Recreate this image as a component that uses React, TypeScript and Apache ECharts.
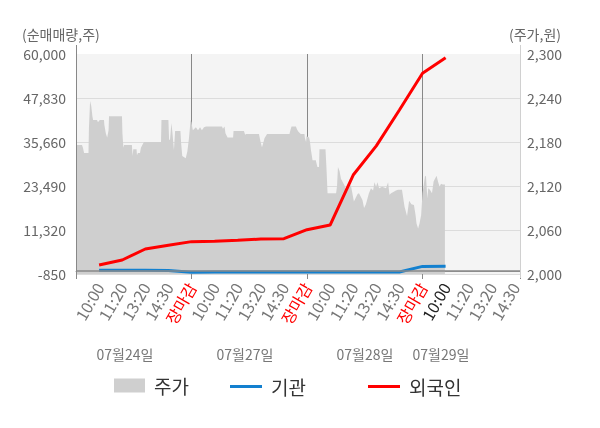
import React, { useEffect, useRef } from 'react';
import * as echarts from 'echarts';

const FONT = '"Noto Sans CJK KR", "Noto Sans", sans-serif';

// x positions are in "label slots": each trading day spans 5 slots (10:00, 11:20, 13:20, 14:30, 장마감)
const timeLabels = [
  '', '10:00', '11:20', '13:20', '14:30', '장마감',
  '10:00', '11:20', '13:20', '14:30', '장마감',
  '10:00', '11:20', '13:20', '14:30', '장마감',
  '10:00', '11:20', '13:20', '14:30',
];
const dateLabels = ['07월24일', '07월27일', '07월28일', '07월29일'];

// 주가 (price, right axis)
const priceX = [
  0, 0.04, 0.26, 0.3, 0.35, 0.54, 0.56, 0.61, 0.66, 0.71, 0.74, 0.91, 0.95, 1.03, 1.21, 1.23, 1.29, 1.35, 1.41, 1.43,
  1.99, 2.01, 2.05, 2.08, 2.42, 2.45, 2.48, 2.62, 2.64, 2.68, 2.77, 2.81, 2.94, 3.68, 3.7, 4.0, 4.03, 4.07, 4.13, 4.17,
  4.24, 4.29, 4.52, 4.55, 4.6, 4.75, 4.82, 4.89, 4.96,
  5.0, 5.04, 5.06, 5.19, 5.28, 5.37, 5.45, 5.54, 5.63, 6.32, 6.36, 6.43, 6.47, 6.56, 6.8, 6.82, 7.27, 7.32, 7.36, 7.92,
  7.99, 8.05, 8.1, 8.16, 8.27, 9.24, 9.29, 9.33, 9.52, 9.57, 9.63, 9.73, 9.89, 9.91, 9.96,
  9.98, 10.09, 10.13, 10.17, 10.24, 10.38, 10.41, 10.45, 10.52, 10.54, 10.8, 10.84, 10.89, 11.26, 11.3, 11.34, 11.41,
  11.47, 11.62, 11.69, 11.75, 11.9, 12.03, 12.19, 12.25, 12.4, 12.47, 12.55, 12.68, 12.77, 12.86, 12.92, 12.99, 13.05,
  13.12, 13.25, 13.42, 13.51, 13.57, 13.64, 13.85, 13.94, 14.11, 14.16, 14.22, 14.33, 14.42, 14.52, 14.63, 14.7, 14.74,
  14.81, 14.87, 14.94,
  15.0, 15.06, 15.11, 15.15, 15.21, 15.25, 15.32, 15.41, 15.48, 15.54, 15.61, 15.67, 15.74, 15.8, 15.87, 15.97,
];
const priceY = [
  2169, 2176, 2176, 2172, 2165, 2165, 2199, 2236, 2229, 2215, 2210, 2210, 2207, 2210, 2210, 2203, 2192, 2186, 2196, 2215,
  2215, 2192, 2172, 2176, 2176, 2161, 2170, 2170, 2162, 2165, 2165, 2172, 2180, 2180, 2210, 2210, 2183, 2183, 2206, 2194,
  2169, 2195, 2195, 2179, 2161, 2158, 2167, 2185, 2210,
  2207, 2199, 2196, 2200, 2196, 2200, 2196, 2200, 2201, 2201, 2198, 2201, 2192, 2186, 2186, 2195, 2195, 2190, 2191, 2191,
  2180, 2173, 2178, 2185, 2191, 2191, 2197, 2201, 2201, 2197, 2194, 2191, 2191, 2185, 2180,
  2188, 2186, 2180, 2169, 2155, 2155, 2151, 2146, 2146, 2170, 2170, 2146, 2110, 2110, 2120, 2146, 2140,
  2130, 2121, 2115, 2119, 2121, 2099, 2109, 2110, 2101, 2090, 2095, 2110, 2117, 2114, 2125, 2119, 2125,
  2117, 2119, 2117, 2125, 2108, 2110, 2114, 2115, 2115, 2105, 2092, 2079, 2100, 2095, 2094, 2080, 2069,
  2062, 2069, 2080,
  2110, 2123, 2134, 2133, 2103, 2117, 2115, 2110, 2126, 2130, 2134, 2126, 2119, 2123, 2122, 2122,
];

// 기관 / 외국인 net buying volume (left axis), one point per label slot
const lineX = [1, 2, 3, 4, 5, 6, 7, 8, 9, 10, 11, 12, 13, 14, 15, 16];
const institution = [200, 200, 200, 150, -350, -300, -300, -300, -300, -300, -300, -300, -300, -300, 1250, 1300];
const foreign = [1640, 3020, 6070, 7100, 8100, 8200, 8470, 8830, 8910, 11400, 12700, 26530, 34600, 44510, 54660, 58980];

const leftMin = -850;
const leftMax = 60000;
const leftStep = 12170;
const rightMin = 2000;
const rightMax = 2300;
const rightStep = 60;
const X_MAX = 19.22;

const fmt = (v: number) => Math.round(v).toLocaleString('en-US');

export default function App() {
  const ref = useRef<HTMLDivElement>(null);
  useEffect(() => {
    const chart = echarts.init(ref.current!, null, { renderer: 'svg' });
    const dateX = [125, 245, 365, 441];
    const legendText = { fontSize: 19, color: '#333', fontFamily: FONT, padding: [0, 0, 0, 4] };
    const option: any = {
      animation: false,
      textStyle: { fontFamily: FONT },
      grid: {
        left: 76, right: 80, top: 54, bottom: 154,
        show: true, backgroundColor: '#f4f4f4', borderWidth: 0,
      },
      xAxis: [
        {
          type: 'value', min: 0, max: X_MAX, interval: 1, position: 'bottom',
          axisLine: { show: true, lineStyle: { color: '#999', width: 1 } },
          axisTick: { show: false },
          splitLine: { show: false },
          axisLabel: {
            rotate: 60, margin: 10, fontSize: 16, color: '#777', fontFamily: FONT,
            showMinLabel: true, showMaxLabel: true,
            formatter: (v: number) => {
              const i = Math.round(v);
              if (Math.abs(v - i) > 1e-6) return '';
              const t = timeLabels[i] ?? '';
              if (!t) return '';
              if (t === '장마감') return `{r|${t}}`;
              if (i === 16) return `{k|${t}}`;
              return t;
            },
            rich: {
              r: { color: '#ff0000', fontSize: 16, fontFamily: FONT },
              k: { color: '#222', fontSize: 16, fontFamily: FONT },
            },
          },
        },
        {
          type: 'value', min: 0, max: X_MAX, interval: 5, position: 'bottom',
          axisLine: { show: false },
          axisTick: { show: true, length: 5, lineStyle: { color: '#888' } },
          axisLabel: { show: false },
          splitLine: {
            show: true,
            lineStyle: { color: ['#888', '#888', '#888', '#888', '#d0d0d0'], width: 1 },
          },
        },
      ],
      yAxis: [
        {
          type: 'value', min: leftMin, max: leftMax, interval: leftStep, position: 'left',
          axisLine: { show: true, lineStyle: { color: '#888' } },
          axisTick: { show: false },
          axisLabel: { fontSize: 14, color: '#666', margin: 10, formatter: fmt, fontFamily: FONT },
          splitLine: {
            show: true,
            lineStyle: { color: ['#dcdcdc', '#dcdcdc', '#dcdcdc', '#dcdcdc', '#dcdcdc', 'rgba(0,0,0,0)'], width: 1 },
          },
        },
        {
          type: 'value', min: rightMin, max: rightMax, interval: rightStep, position: 'right',
          axisLine: { show: true, lineStyle: { color: '#d0d0d0' } },
          axisTick: { show: false },
          axisLabel: { fontSize: 14, color: '#666', margin: 7, formatter: fmt, fontFamily: FONT },
          splitLine: { show: false },
        },
      ],
      legend: [
        {
          data: [{ name: '주가', icon: 'rect' }], left: 114, top: 376, padding: 0,
          itemWidth: 31, itemHeight: 14, itemGap: 0, textStyle: legendText,
        },
        {
          data: [{ name: '기관', icon: 'rect' }], left: 230, top: 377, padding: 0,
          itemWidth: 32, itemHeight: 3, itemGap: 0, textStyle: legendText,
        },
        {
          data: [{ name: '외국인', icon: 'rect' }], left: 368, top: 377, padding: 0,
          itemWidth: 32, itemHeight: 3, itemGap: 0, textStyle: legendText,
        },
      ],
      series: [
        {
          name: '주가', type: 'line', xAxisIndex: 0, yAxisIndex: 1,
          data: priceX.map((x, i) => [x, priceY[i]]),
          symbol: 'none', silent: true,
          lineStyle: { width: 0, color: '#cfcfcf' },
          itemStyle: { color: '#cfcfcf' },
          areaStyle: { color: '#cfcfcf', opacity: 1, origin: 'start' },
          z: 1,
        },
        {
          name: '기관', type: 'line', xAxisIndex: 0, yAxisIndex: 0,
          data: lineX.map((x, i) => [x, institution[i]]),
          symbol: 'none', silent: true,
          lineStyle: { width: 3, color: '#1380cf' },
          itemStyle: { color: '#1380cf' },
          z: 3,
          markLine: {
            silent: true, symbol: ['none', 'none'], label: { show: false },
            lineStyle: { color: '#888', width: 1.5, type: 'solid' },
            data: [{ yAxis: 0 }],
          },
        },
        {
          name: '외국인', type: 'line', xAxisIndex: 0, yAxisIndex: 0,
          data: lineX.map((x, i) => [x, foreign[i]]),
          symbol: 'none', silent: true,
          lineStyle: { width: 3, color: '#ff0000' },
          itemStyle: { color: '#ff0000' },
          z: 4,
        },
      ],
      graphic: [
        {
          type: 'text', x: 22, y: 34,
          style: { text: '(순매매량,주)', fill: '#666', font: `14px ${FONT}`, textAlign: 'left', textVerticalAlign: 'middle' },
        },
        {
          type: 'text', x: 509, y: 34,
          style: { text: '(주가,원)', fill: '#666', font: `14px ${FONT}`, textAlign: 'left', textVerticalAlign: 'middle' },
        },
        ...dateLabels.map((d, i) => ({
          type: 'text', x: dateX[i], y: 354,
          style: { text: d, fill: '#777', font: `14px ${FONT}`, textAlign: 'center', textVerticalAlign: 'middle' },
        })),
        {
          type: 'line', shape: { x1: 76.5, y1: 45, x2: 76.5, y2: 278 },
          style: { stroke: '#888', lineWidth: 1 }, z: 10,
        },
        {
          type: 'line', shape: { x1: 520.5, y1: 45, x2: 520.5, y2: 278 },
          style: { stroke: '#d0d0d0', lineWidth: 1 }, z: 10,
        },
      ],
    };
    chart.setOption(option);
    return () => chart.dispose();
  }, []);
  return <div ref={ref} style={{ position: 'fixed', left: 0, top: 0, width: 600, height: 428 }} />;
}
